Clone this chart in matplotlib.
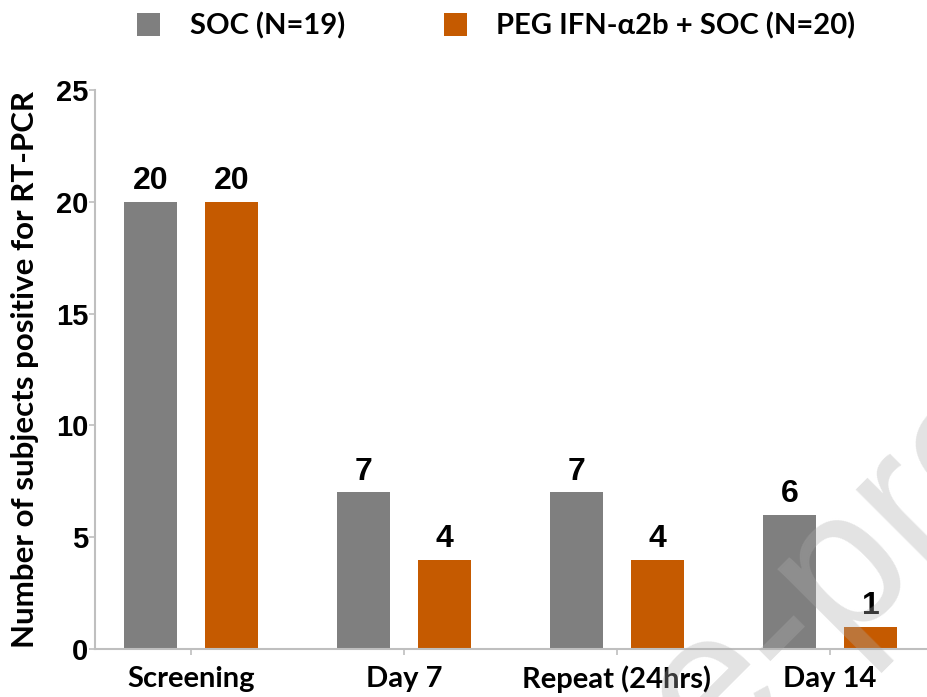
import matplotlib

matplotlib.use("Agg")
import matplotlib.pyplot as plt
import numpy as np

categories = ["Screening", "Day 7", "Repeat (24hrs)", "Day 14"]
soc_values = [20, 7, 7, 6]
peg_values = [20, 4, 4, 1]
series_labels = ["SOC (N=19)", "PEG IFN-\u03b12b + SOC (N=20)"]
y_ticks = [0, 5, 10, 15, 20, 25]

GRAY = "#7f7f7f"
ORANGE = "#c55a00"
SPINE = "#bfbfbf"
NUM_FONT = "Liberation Sans"
TXT_FONT = ["Lato", "DejaVu Sans"]


def main() -> None:
    fig = plt.figure(figsize=(9.28, 6.97), dpi=100)
    ax = fig.add_axes([95 / 928, 48 / 697, 833 / 928, 559 / 697])

    x = np.arange(len(categories))
    width = 0.25
    offset = 0.19
    soc_bars = ax.bar(x - offset, soc_values, width, color=GRAY, label=series_labels[0])
    peg_bars = ax.bar(x + offset, peg_values, width, color=ORANGE, label=series_labels[1])
    for bars in (soc_bars, peg_bars):
        ax.bar_label(bars, padding=4, fontsize=23, fontweight="bold", family=NUM_FONT)

    ax.set_xlim(-0.45, 3.46)
    ax.set_ylim(0, 25)
    ax.set_yticks(y_ticks)
    ax.set_xticks(x)
    ax.set_xticklabels(categories, fontsize=21, fontweight="bold", family=TXT_FONT)
    for label in ax.get_yticklabels():
        label.set_fontsize(21)
        label.set_fontweight("bold")
        label.set_family(NUM_FONT)
    ax.tick_params(axis="both", color=SPINE, length=4, width=1.2, direction="out")
    ax.tick_params(axis="x", pad=8)
    ax.tick_params(axis="y", pad=1)
    for side in ("top", "right"):
        ax.spines[side].set_visible(False)
    for side in ("left", "bottom"):
        ax.spines[side].set_color(SPINE)
        ax.spines[side].set_linewidth(1.5)

    ax.set_ylabel("Number of subjects positive for RT-PCR", fontsize=22.5,
                  fontweight="bold", family=TXT_FONT, labelpad=12)

    fig.legend(handles=[soc_bars, peg_bars], labels=series_labels, loc="center left",
               bbox_to_anchor=(137 / 928, 1 - 26 / 697), ncol=2, frameon=False,
               prop={"family": TXT_FONT, "weight": "bold", "size": 21},
               borderpad=0, borderaxespad=0,
               handlelength=0.8, handleheight=0.8, handletextpad=1.0,
               columnspacing=3.4)

    # faint journal watermark across the lower right
    wm = dict(fontsize=144, color="#acacac", alpha=0.34, rotation=45,
              rotation_mode="anchor", va="baseline", family=NUM_FONT, zorder=10)
    anchor = (793 / 928, 1 - 693 / 697)
    fig.text(*anchor, "Journal Pre", ha="right", **wm)
    fig.text(*anchor, "-proof", ha="left", **wm)

    fig.savefig("out.png", dpi=100)
    plt.close(fig)


if __name__ == "__main__":
    main()
